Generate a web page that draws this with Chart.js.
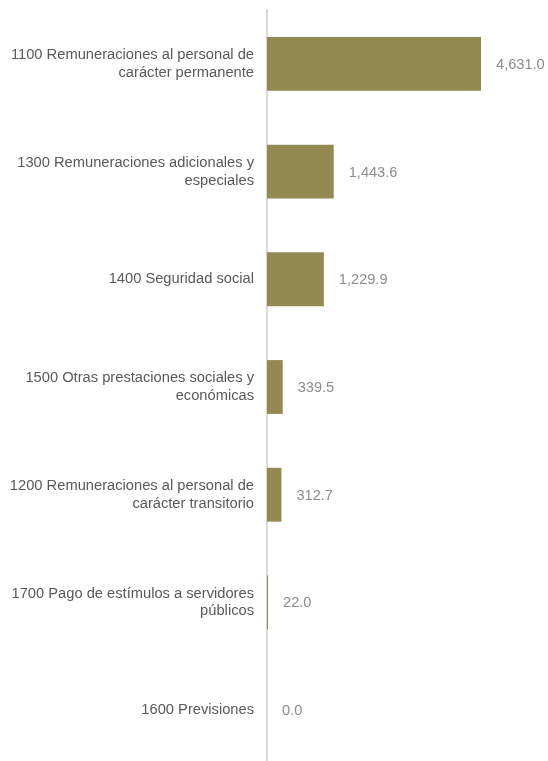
<!DOCTYPE html>
<html>
<head>
<meta charset="utf-8">
<script src="https://cdn.jsdelivr.net/npm/chart.js@4/dist/chart.umd.min.js"></script>
<style>
  html, body { margin: 0; padding: 0; background: #fff; overflow: hidden; }
  #wrap { width: 548px; height: 764px; position: relative; }
</style>
</head>
<body>
<div id="wrap"><canvas id="chart"></canvas></div>
<script>
// categorias y montos (millones)
const categorias = [
  ["1100 Remuneraciones al personal de", "carácter permanente"],
  ["1300 Remuneraciones adicionales y", "especiales"],
  "1400 Seguridad social",
  ["1500 Otras prestaciones sociales y", "económicas"],
  ["1200 Remuneraciones al personal de", "carácter transitorio"],
  ["1700 Pago de estímulos a servidores", "públicos"],
  "1600 Previsiones"
];
const montos = [4631.0, 1443.6, 1229.9, 339.5, 312.7, 22.0, 0.0];

const barColor = "#938a52";

// etiquetas de valor a la derecha de cada barra
const valueLabels = {
  id: "valueLabels",
  afterDatasetsDraw(chart) {
    const ctx = chart.ctx;
    const meta = chart.getDatasetMeta(0);
    ctx.save();
    ctx.font = "14.6px 'Liberation Sans', Arial, sans-serif";
    ctx.fillStyle = "#8c8c8c";
    ctx.textAlign = "left";
    ctx.textBaseline = "middle";
    meta.data.forEach((bar, i) => {
      const txt = montos[i].toLocaleString("en-US", {minimumFractionDigits: 1, maximumFractionDigits: 1});
      ctx.fillText(txt, bar.x + 15, bar.y + 1);
    });
    ctx.restore();
  }
};

new Chart(document.getElementById("chart"), {
  type: "bar",
  data: {
    labels: categorias,
    datasets: [{
      data: montos,
      backgroundColor: barColor,
      barPercentage: 0.5,
      categoryPercentage: 1.0
    }]
  },
  options: {
    indexAxis: "y",
    responsive: true,
    maintainAspectRatio: false,
    animation: false,
    layout: { padding: { top: 10, right: 0, bottom: 0, left: 0 } },
    plugins: {
      legend: { display: false },
      tooltip: { enabled: false }
    },
    scales: {
      x: {
        display: false,
        min: 0,
        max: 6080
      },
      y: {
        afterFit: (s) => {
          s.width = 267;
          s.paddingTop = 0;
          s.paddingBottom = 0;
        },
        grid: { display: false, drawTicks: false },
        border: { display: true, color: "#d9d9d9", width: 2 },
        ticks: {
          padding: 13,
          color: "#595959",
          font: { family: "'Liberation Sans', Arial, sans-serif", size: 14.7, lineHeight: 1.22 }
        }
      }
    }
  },
  plugins: [valueLabels]
});
</script>
</body>
</html>
